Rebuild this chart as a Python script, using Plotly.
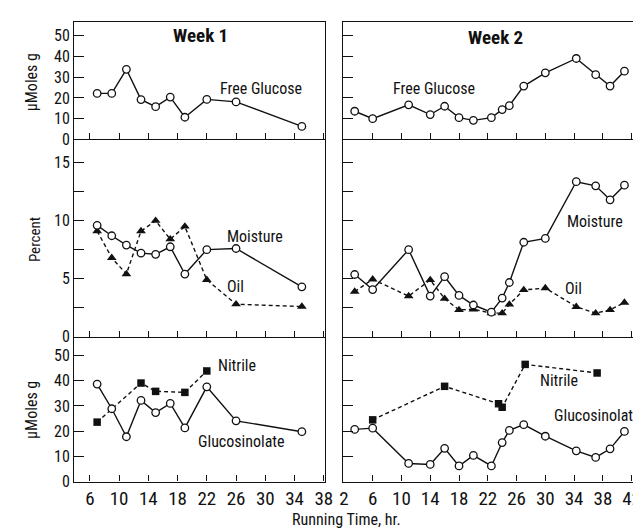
import plotly.graph_objects as go

# ---------------- data ----------------
w1_x = [7, 9, 11, 13, 15, 17, 19, 22, 26, 35]
w1_glucose = [22.2, 22.2, 33.8, 19.2, 15.8, 20.4, 10.7, 19.3, 18.1, 6.3]
w1_moisture = [9.6, 8.7, 7.9, 7.2, 7.1, 7.75, 5.4, 7.5, 7.6, 4.3]
w1_oil = [9.1, 6.8, 5.4, 9.1, 10.0, 8.4, 9.5, 4.9, 2.8, 2.6]
w1_glucosinolate = [38.7, 28.9, 17.8, 32.2, 27.4, 31.0, 21.3, 37.6, 24.1, 19.8]
w1_nitrile_x = [7, 13, 15, 19, 22]
w1_nitrile = [23.6, 39.1, 35.8, 35.4, 43.9]

w2_x = [3.5, 6, 11, 14, 16, 18, 20, 22.5, 24, 25, 27, 30, 34.3, 37, 39, 41]
w2_glucose = [13.6, 10.0, 16.7, 12.0, 16.0, 10.5, 9.2, 10.5, 14.4, 16.3, 25.7, 32.1, 39.0, 31.2, 25.7, 32.9]
w2_moisture = [5.36, 4.06, 7.5, 3.5, 5.17, 3.56, 2.73, 2.11, 3.33, 4.67, 8.14, 8.47, 13.36, 13.0, 11.8, 13.06]
w2_oil = [3.89, 4.94, 3.5, 4.89, 3.28, 2.31, 2.36, 2.03, 2.03, 2.78, 4.03, 4.19, 2.58, 2.03, 2.31, 2.94]
w2_glucosinolate = [20.7, 21.2, 7.2, 6.8, 13.2, 6.2, 10.4, 6.2, 15.5, 20.3, 22.6, 18.0, 12.2, 9.6, 13.0, 19.9]
w2_nitrile_x = [6, 16, 23.5, 24, 27.2, 37.2]
w2_nitrile = [24.5, 37.8, 30.9, 29.5, 46.5, 43.1]

w1_ticks = [6, 10, 14, 18, 22, 26, 30, 34, 38]
w2_ticks = [2, 6, 10, 14, 18, 22, 26, 30, 34, 38, 42]

# ---------------- style ----------------
W, H = 641, 530
FONT = "Roboto Condensed, DejaVu Sans Condensed, sans-serif"
INK = "#111111"


def px(x):
    return x / W


def py(y):
    return 1 - y / H


fig = go.Figure()

open_circle = dict(symbol="circle", size=7.5, color="white", line=dict(color=INK, width=1.3))
tri = dict(symbol="triangle-up", size=8.5, color=INK, line=dict(color=INK, width=0))
sq = dict(symbol="square", size=7.5, color=INK, line=dict(color=INK, width=0))
solid = dict(color=INK, width=1.4)
dashed = dict(color=INK, width=1.4, dash="4px,3px")

# axis ids: 1 top-left, 2 top-right, 3 mid-left, 4 mid-right, 5 bot-left, 6 bot-right
series = [
    (1, w1_x, w1_glucose, solid, open_circle),
    (2, w2_x, w2_glucose, solid, open_circle),
    (3, w1_x, w1_oil, dashed, tri),
    (3, w1_x, w1_moisture, solid, open_circle),
    (4, w2_x, w2_oil, dashed, tri),
    (4, w2_x, w2_moisture, solid, open_circle),
    (5, w1_nitrile_x, w1_nitrile, dashed, sq),
    (5, w1_x, w1_glucosinolate, solid, open_circle),
    (6, w2_nitrile_x, w2_nitrile, dashed, sq),
    (6, w2_x, w2_glucosinolate, solid, open_circle),
]
for k, xs, ys, ln, mk in series:
    fig.add_trace(go.Scatter(
        x=xs, y=ys, mode="lines+markers", line=ln, marker=mk,
        xaxis="x" if k == 1 else f"x{k}", yaxis="y" if k == 1 else f"y{k}",
        showlegend=False, hoverinfo="skip", cliponaxis=False,
    ))

xl = [px(63.3), px(319)]
xr = [px(337.5), 1.0]
rows = {
    "top": [py(134), py(14)],
    "mid": [py(335), py(134)],
    "bot": [py(482.7), py(335)],
}
LRANGE = [3.85, 38.17]
RRANGE = [1.9, 43.3]

common_x = dict(showgrid=False, zeroline=False, showline=True, linecolor=INK, linewidth=1.2,
                ticks="inside", ticklen=6, tickwidth=1, tickcolor=INK,
                tickfont=dict(family=FONT, size=19, color=INK), fixedrange=True)
common_y = dict(showgrid=False, zeroline=False, showline=True, linecolor=INK, linewidth=1.2,
                ticks="inside", ticklen=10, tickwidth=1, tickcolor=INK,
                tickfont=dict(family=FONT, size=16, color=INK), fixedrange=True)

lay = {}
for k, (dom, rng, tv, row) in {
    1: (xl, LRANGE, w1_ticks, "top"),
    2: (xr, RRANGE, w2_ticks, "top"),
    3: (xl, LRANGE, w1_ticks, "mid"),
    4: (xr, RRANGE, w2_ticks, "mid"),
    5: (xl, LRANGE, w1_ticks, "bot"),
    6: (xr, RRANGE, w2_ticks, "bot"),
}.items():
    name = "xaxis" if k == 1 else f"xaxis{k}"
    yname = "y" if k == 1 else f"y{k}"
    lay[name] = dict(common_x, domain=dom, range=rng, tickvals=tv, anchor=yname,
                     showticklabels=(row == "bot"), mirror=(row == "top"))

yspecs = {
    1: ("top", [0, 56.7], [0, 10, 20, 30, 40, 50], [0, 10, 20, 30, 40, 50], True),
    2: ("top", [0, 56.7], [0, 10, 20, 30, 40, 50], None, False),
    3: ("mid", [0, 17], [0, 2.5, 5, 7.5, 10, 12.5, 15], ["0", "", "5", "", "10", "", "15"], True),
    4: ("mid", [0, 17], [0, 2.5, 5, 7.5, 10, 12.5, 15], None, False),
    5: ("bot", [0, 57.5], [0, 10, 20, 30, 40, 50], [0, 10, 20, 30, 40, 50], True),
    6: ("bot", [0, 57.5], [0, 10, 20, 30, 40, 50], None, False),
}
for k, (row, rng, tv, tt, left) in yspecs.items():
    name = "yaxis" if k == 1 else f"yaxis{k}"
    xname = "x" if k == 1 else f"x{k}"
    d = dict(common_y, domain=rows[row], range=rng, tickvals=tv, anchor=xname,
             showticklabels=left, mirror=left)
    if tt is not None:
        d["ticktext"] = [str(t) for t in tt]
    lay[name] = d

fig.update_layout(**lay)

ann = []


def text(x, y, s, size=15, angle=0, bold=False):
    ann.append(dict(x=px(x), y=py(y), xref="paper", yref="paper", text=f"<b>{s}</b>" if bold else s,
                    showarrow=False, textangle=angle, xanchor="center", yanchor="middle",
                    font=dict(family=FONT, size=size, color=INK)))


text(192, 28, "Week 1", size=19, bold=True)
text(493, 30, "Week 2", size=19, bold=True)
text(254, 82, "Free Glucose", 16)
text(430, 82, "Free Glucose", 16)
text(248, 233, "Moisture", 16)
text(228, 284, "Oil", 16)
text(594, 218, "Moisture", 16)
text(572, 286, "Oil", 16)
text(229, 364, "Nitrile", 16)
text(234, 442, "Glucosinolate", 16)
text(557, 380, "Nitrile", 16)
text(597, 415, "Glucosinolate", 16)
text(20, 76, "μMoles g", 16, angle=-90)
text(23, 236, "Percent", 15, angle=-90)
text(20, 410, "μMoles g", 16, angle=-90)
text(341, 521, "Running Time, hr.", 16)

fig.update_layout(
    width=W, height=H, margin=dict(l=0, r=0, t=0, b=0),
    paper_bgcolor="white", plot_bgcolor="white",
    annotations=ann, font=dict(family=FONT, color=INK),
)

fig.write_html("out.html")
